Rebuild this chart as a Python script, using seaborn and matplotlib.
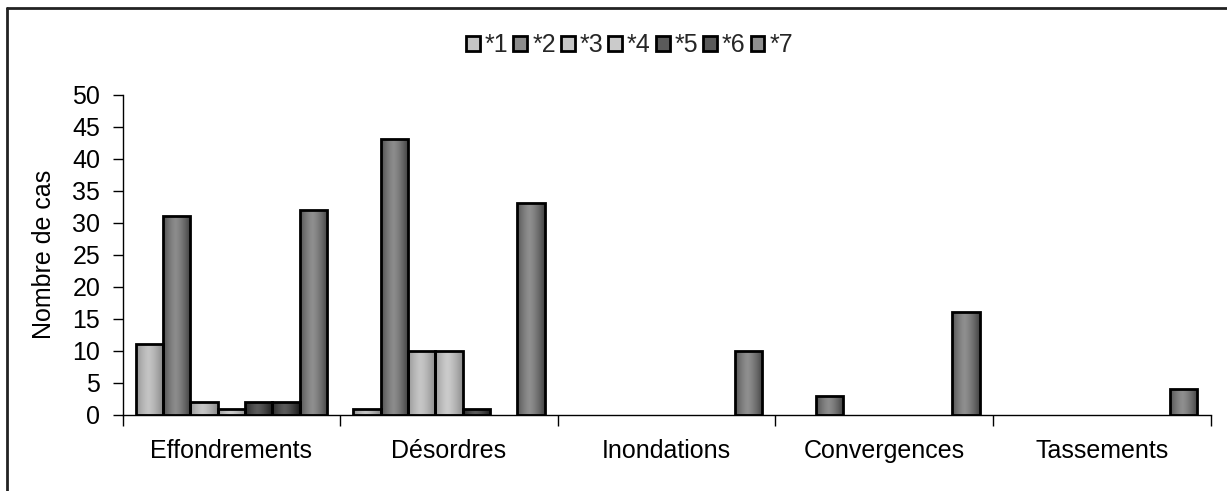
import numpy as np
import pandas as pd
import matplotlib
matplotlib.use("Agg")
import matplotlib.pyplot as plt
from matplotlib.patches import Patch
from matplotlib.lines import Line2D
import seaborn as sns

# Data
categories = ['Effondrements', 'Désordres', 'Inondations', 'Convergences', 'Tassements']
series = ['*1', '*2', '*3', '*4', '*5', '*6', '*7']
values = {
    '*1': [11, 1, 0, 0, 0],
    '*2': [31, 43, 0, 3, 0],
    '*3': [2, 10, 0, 0, 0],
    '*4': [1, 10, 0, 0, 0],
    '*5': [2, 1, 0, 0, 0],
    '*6': [2, 0, 0, 0, 0],
    '*7': [32, 33, 10, 16, 4],
}

# shading: (edge colour, centre colour) per series
shades = {
    '*1': ('#858585', '#c4c4c4'),
    '*2': ('#3e3e3e', '#8c8c8c'),
    '*3': ('#8a8a8a', '#c6c6c6'),
    '*4': ('#8e8e8e', '#cbcbcb'),
    '*5': ('#1a1a1a', '#5a5a5a'),
    '*6': ('#1a1a1a', '#5a5a5a'),
    '*7': ('#434343', '#8f8f8f'),
}

rows = []
for s in series:
    for c, v in zip(categories, values[s]):
        rows.append({'Catégorie': c, 'Série': s, 'Nombre de cas': v})
df = pd.DataFrame(rows)

sns.set_style("ticks")
plt.rcParams['font.family'] = ['Liberation Sans', 'DejaVu Sans']
fs = 18

fig = plt.figure(figsize=(12.27, 4.91), dpi=100)
ax = fig.add_axes([122.5 / 1227, (491 - 415) / 491, (1210.5 - 122.5) / 1227, (415 - 94.5) / 491])

pal = {s: shades[s][1] for s in series}
sns.barplot(data=df, x='Catégorie', y='Nombre de cas', hue='Série', hue_order=series,
            order=categories, palette=pal, width=0.88, gap=0, errorbar=None,
            edgecolor='black', linewidth=2, saturation=1, legend=False, ax=ax)

# cylinder-like horizontal gradient inside each bar
t = np.linspace(0, 1, 64)
prof = 1 - np.clip(np.abs(t - 0.45) / 0.55, 0, 1) ** 1.4
for i, bar in enumerate(ax.patches):
    s = series[i // len(categories)]
    h = bar.get_height()
    if h <= 0:
        bar.set_linewidth(0)
        continue
    e = np.array(matplotlib.colors.to_rgb(shades[s][0]))
    c = np.array(matplotlib.colors.to_rgb(shades[s][1]))
    img = e[None, :] + prof[:, None] * (c - e)[None, :]
    x0 = bar.get_x()
    w = bar.get_width()
    im = ax.imshow(img[None, :, :], extent=[x0, x0 + w, 0, h], aspect='auto',
                   interpolation='bilinear', zorder=2)
    im.set_clip_path(bar)
    bar.set_facecolor('none')
    bar.set_zorder(3)

ax.set_xlim(-0.5, len(categories) - 0.5)
ax.set_ylim(0, 50)
ax.set_yticks(range(0, 51, 5))
ax.set_xticks(np.arange(-0.5, len(categories), 1))
ax.set_xticklabels([])
ax.set_xticks(range(len(categories)), minor=True)
ax.set_xticklabels(categories, minor=True)
ax.tick_params(axis='x', which='major', direction='out', length=8, width=1, color='black')
ax.tick_params(axis='x', which='minor', length=0, pad=17, labelsize=fs, labelcolor='black')
ax.tick_params(axis='y', direction='out', length=7, width=1, color='black', pad=9,
               labelsize=fs, labelcolor='black')
ax.set_xlabel('')
ax.set_ylabel('Nombre de cas', fontsize=fs, labelpad=12, color='black')
sns.despine(ax=ax)
for sp in ['left', 'bottom']:
    ax.spines[sp].set_color('black')
    ax.spines[sp].set_linewidth(1)

handles = [Patch(facecolor=shades[s][1], edgecolor='black', linewidth=2, label=s) for s in series]
fig.legend(handles=handles, loc='center', bbox_to_anchor=(0.513, 0.908), ncol=7,
           frameon=False, fontsize=fs, handlelength=0.55, handleheight=0.55,
           handletextpad=0.2, columnspacing=0.2, borderaxespad=0)

# chart-area frame (top and left edges visible)
fig.add_artist(Line2D([7 / 1227, 7 / 1227], [0, 1 - 8 / 491], color='#222222', lw=2))
fig.add_artist(Line2D([7 / 1227, 1], [1 - 8 / 491, 1 - 8 / 491], color='#222222', lw=2))

fig.savefig('out.png', dpi=100)
